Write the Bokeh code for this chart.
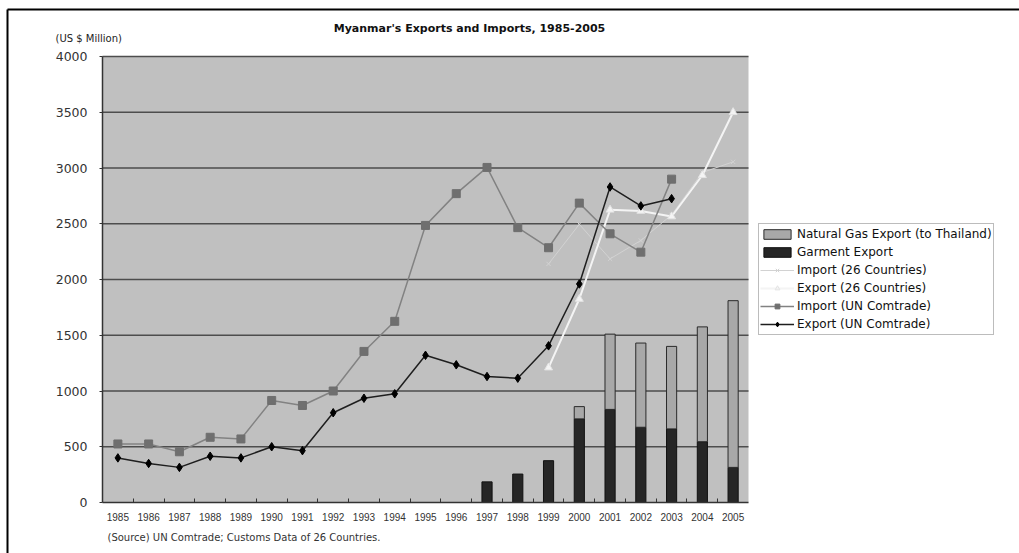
from bokeh.plotting import figure
from bokeh.models import (Range1d, FixedTicker, Legend, LegendItem, Label,
                          Arrow, BoxAnnotation)
from bokeh.embed import file_html
from bokeh.resources import INLINE

# ---- data (US $ million) ----
years = list(range(1985, 2006))
year_labels = [str(y) for y in years]

un_years = list(range(1985, 2004))
export_un = [400, 350, 315, 415, 400, 500, 465, 805, 935, 975, 1320, 1235,
             1130, 1115, 1405, 1960, 2830, 2660, 2725]
import_un = [525, 525, 455, 585, 570, 915, 870, 1000, 1355, 1625, 2485, 2770,
             3005, 2465, 2285, 2685, 2410, 2245, 2900]

c26_years = list(range(1999, 2006))
export_26 = [1210, 1825, 2625, 2615, 2565, 2935, 3500]
import_26 = [2140, 2495, 2185, 2350, 2580, 2960, 3055]

garment_years = list(range(1997, 2006))
garment = [185, 255, 375, 750, 835, 675, 660, 545, 315]

gas_years = list(range(2000, 2006))
gas = [110, 675, 755, 740, 1030, 1495]

y_ticks = [0, 500, 1000, 1500, 2000, 2500, 3000, 3500, 4000]

# ---- page geometry (pixels from the top-left corner) ----
W, H = 1019, 553
AX_L, AX_R, AX_T, AX_B = 102, 748, 56, 502       # plot area
X_LO, X_HI = years[0] - 0.5, years[-1] + 0.5      # category span
Y_LO, Y_HI = y_ticks[0], y_ticks[-1]
PX_X = (AX_R - AX_L) / (X_HI - X_LO)
PX_Y = (AX_B - AX_T) / (Y_HI - Y_LO)


def xd(px):
    return X_LO + (px - AX_L) / PX_X


def yd(py):
    return Y_LO + (AX_B - py) / PX_Y


FONT = "DejaVu Sans"
TICK_FONT = "Liberation Sans"

# The frame covers the whole page so that titles, legend and notes can sit
# anywhere; the axes are pinned to the plot area with fixed_location.
p = figure(width=W, height=H, output_backend="svg", toolbar_location=None,
           x_range=Range1d(xd(0), xd(W)), y_range=Range1d(yd(H), yd(0)),
           min_border=0, min_border_left=0, min_border_right=0,
           min_border_top=0, min_border_bottom=0)
p.background_fill_color = "white"
p.border_fill_color = "white"
p.outline_line_color = None
p.xgrid.visible = False
p.ygrid.visible = False

# grey plot area
p.add_layout(BoxAnnotation(left=X_LO, right=X_HI, bottom=Y_LO, top=Y_HI,
                           fill_color="#c0c0c0", fill_alpha=1,
                           line_color=None, level="image"))

# ---- axes ----
p.yaxis.fixed_location = X_LO
p.yaxis.bounds = (Y_LO, Y_HI)
p.yaxis.ticker = FixedTicker(ticks=y_ticks)
p.yaxis.axis_line_color = "#333333"
p.yaxis.axis_line_width = 1.5
p.yaxis.major_tick_in = 0
p.yaxis.major_tick_out = 3
p.yaxis.major_tick_line_color = "#333333"
p.yaxis.minor_tick_line_color = None
p.yaxis.major_label_text_font = FONT
p.yaxis.major_label_text_font_size = "12.5px"
p.yaxis.major_label_text_color = "#333333"
p.yaxis.major_label_standoff = 12

boundaries = [y + 0.5 for y in years[:-1]]
p.xaxis.fixed_location = Y_LO
p.xaxis.bounds = (X_LO, X_HI)
p.xaxis.ticker = FixedTicker(ticks=years, minor_ticks=boundaries)
p.xaxis.major_label_overrides = {y: s for y, s in zip(years, year_labels)}
p.xaxis.axis_line_color = "#333333"
p.xaxis.axis_line_width = 1.5
p.xaxis.major_tick_line_color = None
p.xaxis.major_tick_in = 0
p.xaxis.major_tick_out = 0
p.xaxis.minor_tick_in = 4
p.xaxis.minor_tick_out = 0
p.xaxis.minor_tick_line_color = "#333333"
p.xaxis.major_label_text_font = TICK_FONT
p.xaxis.major_label_text_font_size = "10px"
p.xaxis.major_label_text_color = "#333333"
p.xaxis.major_label_standoff = 10

# horizontal grid lines across the plot area
p.segment(x0=X_LO, x1=X_HI, y0=y_ticks[1:], y1=y_ticks[1:],
          line_color="#4d4d4d", line_width=1.5)

# ---- bars ----
garment_map = dict(zip(garment_years, garment))
gas_bottom = [garment_map[y] for y in gas_years]
gas_top = [b + g for b, g in zip(gas_bottom, gas)]

bar_w = 0.33
r_garment = p.vbar(x=garment_years, bottom=0, top=garment, width=bar_w,
                   fill_color="#262626", line_color="#111111", line_width=1)
r_gas = p.vbar(x=gas_years, bottom=gas_bottom, top=gas_top, width=bar_w,
               fill_color="#a8a8a8", line_color="#2a2a2a", line_width=1)

# ---- lines ----
r_i26l = p.line(c26_years, import_26, line_color="#d2d2d2", line_width=1)
r_i26m = p.scatter(c26_years, import_26, marker="x", size=6,
                   line_color="#d2d2d2", line_width=1)

r_e26l = p.line(c26_years, export_26, line_color="#f4f4f4", line_width=2)
r_e26m = p.scatter(c26_years, export_26, marker="triangle", size=8,
                   fill_color="#f4f4f4", line_color="#e4e4e4")

r_iunl = p.line(un_years, import_un, line_color="#828282", line_width=1.5)
r_iunm = p.scatter(un_years, import_un, marker="square", size=8,
                   fill_color="#6f6f6f", line_color="#6f6f6f")

r_eunl = p.line(un_years, export_un, line_color="#1e1e1e", line_width=1.5)
r_eunm = p.scatter(un_years, export_un, marker="diamond", size=8.5,
                   fill_color="#000000", line_color="#000000")

# ---- legend ----
legend = Legend(items=[
    LegendItem(label="Natural Gas Export (to Thailand)", renderers=[r_gas]),
    LegendItem(label="Garment Export", renderers=[r_garment]),
    LegendItem(label="Import (26 Countries)", renderers=[r_i26l, r_i26m]),
    LegendItem(label="Export (26 Countries)", renderers=[r_e26l, r_e26m]),
    LegendItem(label="Import (UN Comtrade)", renderers=[r_iunl, r_iunm]),
    LegendItem(label="Export (UN Comtrade)", renderers=[r_eunl, r_eunm]),
], location=(758, H - 335))
legend.label_text_font = FONT
legend.label_text_font_size = "12px"
legend.label_text_color = "#111111"
legend.label_height = 18
legend.glyph_height = 12
legend.glyph_width = 34
legend.label_standoff = 3
legend.spacing = 0
legend.padding = 1
legend.margin = 0
legend.border_line_color = "#7a7a7a"
legend.border_line_width = 1
legend.background_fill_color = "white"
legend.background_fill_alpha = 1
p.add_layout(legend, "center")

# ---- texts ----
p.add_layout(Label(x=xd(469), y=yd(28), text="Myanmar's Exports and Imports, 1985-2005",
                   text_font=FONT, text_font_style="bold", text_font_size="11px",
                   text_align="center", text_baseline="middle", text_color="#111111"))
p.add_layout(Label(x=xd(55), y=yd(38), text="(US $ Million)",
                   text_font=FONT, text_font_size="10px",
                   text_align="left", text_baseline="middle", text_color="#222222"))
p.add_layout(Label(x=xd(107), y=yd(537),
                   text="(Source) UN Comtrade; Customs Data of 26 Countries.",
                   text_font=FONT, text_font_size="10px",
                   text_align="left", text_baseline="middle", text_color="#333333"))

# ---- page frame (top and left edges) ----
p.add_layout(Arrow(x_start=xd(7), y_start=yd(9), x_end=xd(W + 5), y_end=yd(9),
                   start=None, end=None, line_color="black", line_width=2))
p.add_layout(Arrow(x_start=xd(7), y_start=yd(9), x_end=xd(7), y_end=yd(H + 5),
                   start=None, end=None, line_color="black", line_width=2))

open("out.html", "w").write(file_html(p, INLINE))
